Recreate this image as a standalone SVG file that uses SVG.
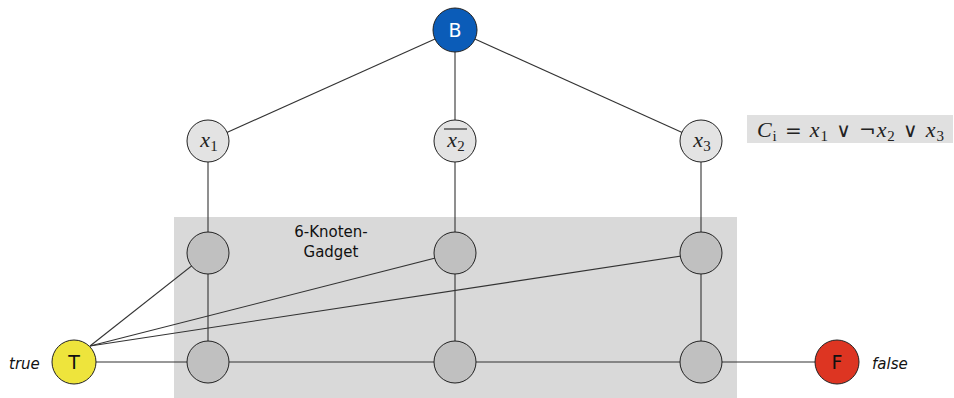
<svg xmlns="http://www.w3.org/2000/svg" width="954" height="398" viewBox="0 0 954 398">
<style>
.e{stroke:#333;stroke-width:1.1;fill:none}
.lit{fill:#e3e3e3;stroke:#222;stroke-width:1}
.g{fill:#c0c0c0;stroke:#222;stroke-width:1}
.m{font-family:"Liberation Serif",serif;font-style:italic;font-size:22px;fill:#222}
.ms{font-family:"Liberation Serif",serif;font-size:15px;fill:#222;font-style:normal}
.op{font-family:"DejaVu Sans",sans-serif;font-style:normal;font-size:20px}
.s{font-family:"DejaVu Sans","Noto Sans",sans-serif;fill:#111}
</style>
<rect x="174" y="217" width="563" height="181" fill="#d9d9d9"/>
<rect x="747" y="115" width="206" height="28" fill="#e0e0e0"/>
<text x="757" y="137" class="m" textLength="187" lengthAdjust="spacing">C<tspan class="ms" dy="4">i</tspan><tspan class="op" dy="-4"> = </tspan>x<tspan class="ms" dy="4">1</tspan><tspan class="op" dy="-4"> ∨ ¬</tspan>x<tspan class="ms" dy="4">2</tspan><tspan class="op" dy="-4"> ∨ </tspan>x<tspan class="ms" dy="4">3</tspan></text>
<g id="connectors">
<line class="e" x1="455" y1="30" x2="208" y2="141"/>
<line class="e" x1="455" y1="30" x2="455" y2="141"/>
<line class="e" x1="455" y1="30" x2="701" y2="141"/>
<line class="e" x1="208" y1="141" x2="208" y2="362"/>
<line class="e" x1="455" y1="141" x2="455" y2="362"/>
<line class="e" x1="701" y1="141" x2="701" y2="362"/>
<line class="e" x1="74" y1="362" x2="837" y2="362"/>
<line class="e" x1="90" y1="346" x2="208" y2="253"/>
<line class="e" x1="90" y1="346" x2="455" y2="253"/>
<line class="e" x1="90" y1="346" x2="701" y2="253"/>
</g>
<g id="B"><circle cx="455" cy="30" r="22" fill="#0b5cb8" stroke="#222"/><text x="455" y="37" text-anchor="middle" class="s" font-size="19" style="fill:#fff">B</text></g>
<g id="x1"><circle cx="208" cy="141" r="21" class="lit"/><text x="209" y="147" class="m" text-anchor="middle">x<tspan class="ms" dy="4">1</tspan></text></g>
<g id="x2"><circle cx="455" cy="141" r="21" class="lit"/><text x="456" y="147" class="m" text-anchor="middle">x<tspan class="ms" dy="4">2</tspan></text><line x1="444" y1="129" x2="467" y2="129" stroke="#222" stroke-width="1.1"/></g>
<g id="x3"><circle cx="701" cy="141" r="21" class="lit"/><text x="702" y="147" class="m" text-anchor="middle">x<tspan class="ms" dy="4">3</tspan></text></g>
<g id="g1"><circle cx="208" cy="253" r="21" class="g"/></g>
<g id="g2"><circle cx="455" cy="253" r="21" class="g"/></g>
<g id="g3"><circle cx="701" cy="253" r="21" class="g"/></g>
<g id="g4"><circle cx="208" cy="362" r="21" class="g"/></g>
<g id="g5"><circle cx="455" cy="362" r="21" class="g"/></g>
<g id="g6"><circle cx="701" cy="362" r="21" class="g"/></g>
<g id="T"><circle cx="74" cy="362" r="22" fill="#eee43c" stroke="#222"/><text x="74" y="369" text-anchor="middle" class="s" font-size="19">T</text></g>
<g id="F"><circle cx="837" cy="362" r="22" fill="#dd3522" stroke="#222"/><text x="837" y="369" text-anchor="middle" class="s" font-size="19">F</text></g>
<text x="9" y="369" class="s" font-size="15" font-style="italic">true</text>
<text x="872" y="369" class="s" font-size="15" font-style="italic">false</text>
<text x="331" y="237" class="s" font-size="15" text-anchor="middle">6-Knoten-</text>
<text x="331" y="257" class="s" font-size="15" text-anchor="middle">Gadget</text>
</svg>
